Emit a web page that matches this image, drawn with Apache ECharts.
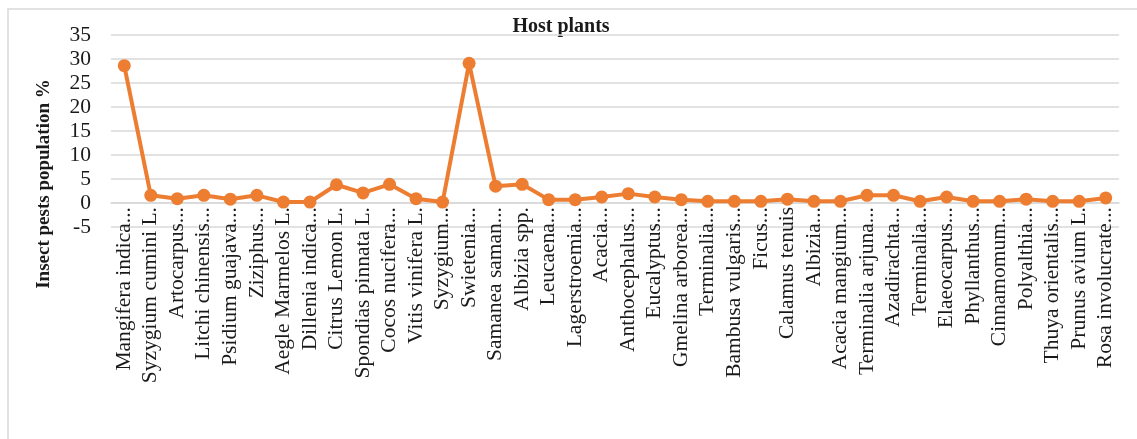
<!DOCTYPE html>
<html>
<head>
<meta charset="utf-8">
<script src="https://cdn.jsdelivr.net/npm/echarts@6/dist/echarts.min.js"></script>
<style>
  html, body { margin: 0; padding: 0; background: #ffffff; }
  #chart { width: 1137px; height: 439px; }
</style>
</head>
<body>
<div id="chart"></div>
<script>
// Host plant names (truncated as shown on the axis)
const hostPlants = [
  "Mangifera indica...", "Syzygium cumini L.", "Artocarpus...", "Litchi chinensis...",
  "Psidium guajava...", "Ziziphus...", "Aegle Marmelos L.", "Dillenia indica...",
  "Citrus Lemon L.", "Spondias pinnata L.", "Cocos nucifera...", "Vitis vinifera L.",
  "Syzygium...", "Swietenia...", "Samanea saman...", "Albizia spp.",
  "Leucaena...", "Lagerstroemia...", "Acacia...", "Anthocephalus...",
  "Eucalyptus...", "Gmelina arborea...", "Terminalia...", "Bambusa vulgaris...",
  "Ficus...", "Calamus tenuis", "Albizia...", "Acacia mangium...",
  "Terminalia arjuna...", "Azadirachta...", "Terminalia...", "Elaeocarpus...",
  "Phyllanthus...", "Cinnamomum...", "Polyalthia...", "Thuya orientalis...",
  "Prunus avium L.", "Rosa involucrate..."
];

// Insect pests population (%) per host plant
const pestPopulation = [
  28.6, 1.6, 0.9, 1.6,
  0.8, 1.6, 0.2, 0.2,
  3.8, 2.1, 3.9, 0.9,
  0.2, 29.1, 3.5, 3.9,
  0.7, 0.7, 1.25, 1.95,
  1.25, 0.7, 0.35, 0.35,
  0.35, 0.8, 0.35, 0.35,
  1.6, 1.6, 0.35, 1.25,
  0.35, 0.35, 0.8, 0.35,
  0.35, 1.05
];

// Value axis range
const yMin = -5;
const yMax = 35;
const yStep = 5;

const chartTitle = 'Host plants';
const yTitle = 'Insect pests population %';

const serif = '"Liberation Serif", "DejaVu Serif", serif';
const ink = '#1a1a1a';
const chart = echarts.init(document.getElementById('chart'), null, { renderer: 'canvas' });

chart.setOption({
  backgroundColor: '#ffffff',
  animation: false,
  graphic: [
    {
      // chart-area frame
      type: 'rect',
      shape: { x: 8, y: 9, width: 1200, height: 500 },
      style: { fill: 'none', stroke: '#d9d9d9', lineWidth: 1.5 },
      silent: true,
      z: -1
    },
    {
      type: 'text',
      x: 561, y: 27,
      style: {
        text: chartTitle, fill: ink,
        font: 'bold 20px ' + serif,
        align: 'center', verticalAlign: 'middle'
      }
    },
    {
      type: 'text',
      x: 44, y: 184,
      rotation: Math.PI / 2,
      style: {
        text: yTitle, fill: ink,
        font: 'bold 19px ' + serif,
        align: 'center', verticalAlign: 'middle'
      }
    }
  ],
  grid: { left: 111, right: 18, top: 35, bottom: 212 },
  xAxis: {
    type: 'category',
    data: hostPlants,
    boundaryGap: true,
    axisLine: { onZero: true, lineStyle: { color: '#d9d9d9', width: 1.5 } },
    axisTick: { show: false },
    axisLabel: {
      interval: 0,
      rotate: 90,
      // labels hang just below the zero line
      margin: -20,
      fontFamily: serif,
      fontSize: 21.5,
      color: ink
    },
    splitLine: { show: false }
  },
  yAxis: {
    type: 'value',
    min: yMin,
    max: yMax,
    interval: yStep,
    axisLine: { show: false },
    axisTick: { show: false },
    axisLabel: { margin: 20, fontFamily: serif, fontSize: 21.5, color: ink },
    splitLine: { lineStyle: { color: '#d9d9d9', width: 1.5 } }
  },
  series: [{
    type: 'line',
    data: pestPopulation,
    symbol: 'circle',
    symbolSize: 13,
    lineStyle: { color: '#ed7d31', width: 4 },
    itemStyle: { color: '#ed7d31' },
    z: 3
  }]
});
</script>
</body>
</html>
